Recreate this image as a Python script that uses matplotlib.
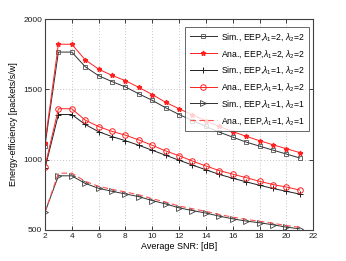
# energy-efficiency vs SNR
import matplotlib
matplotlib.use('Agg')
import matplotlib.pyplot as plt
import numpy as np

snr = np.arange(2, 22)

sim_22 = [1100, 1765, 1765, 1661, 1597, 1555, 1517, 1468, 1422, 1369, 1321,
          1278, 1236, 1196, 1160, 1125, 1096, 1068, 1040, 1012]
ana_22 = [1121, 1821, 1821, 1710, 1644, 1599, 1562, 1514, 1463, 1408, 1362,
          1318, 1276, 1237, 1200, 1166, 1135, 1106, 1078, 1050]
sim_12 = [938, 1321, 1321, 1250, 1199, 1164, 1135, 1102, 1067, 1031, 996,
          961, 928, 895, 868, 842, 818, 795, 775, 755]
ana_12 = [951, 1362, 1362, 1281, 1235, 1201, 1174, 1140, 1102, 1062, 1028,
          990, 955, 922, 897, 872, 846, 823, 805, 784]
sim_11 = [626, 885, 885, 831, 796, 775, 756, 737, 709, 685, 657,
          638, 620, 598, 579, 563, 551, 537, 520, 508]
ana_11 = [626, 904, 904, 846, 810, 789, 770, 750, 722, 698, 670,
          651, 632, 610, 591, 575, 562, 548, 531, 519]

plt.rcParams.update({'font.size': 6, 'font.family': 'Liberation Sans',
                     'mathtext.fontset': 'custom', 'mathtext.rm': 'Liberation Sans',
                     'mathtext.it': 'Liberation Sans:italic'})

fig = plt.figure(figsize=(3.46, 2.61), dpi=100)
ax = fig.add_axes([0.130, 0.119, 0.775, 0.808])

lw = 0.7
ms = 3.5
ax.plot(snr, sim_22, '-s', color='#303030', lw=lw, ms=ms, mfc='none', mec='#505050', mew=0.6,
        label=r'Sim., EEP,$\lambda_1$=2, $\lambda_2$=2')
ax.plot(snr, ana_22, '-*', color='#ff2020', lw=lw, ms=ms, mfc='#ff2020', mec='#ff2020',
        label=r'Ana., EEP,$\lambda_1$=2, $\lambda_2$=2')
ax.plot(snr, sim_12, '-+', color='#202020', lw=lw, ms=ms + 1, mew=0.7,
        label=r'Sim., EEP,$\lambda_1$=1, $\lambda_2$=2')
ax.plot(snr, ana_12, '-o', color='#ff2020', lw=lw, ms=ms + 0.5, mfc='none', mew=0.7,
        label=r'Ana., EEP,$\lambda_1$=1, $\lambda_2$=2')
ax.plot(snr, sim_11, '->', color='#303030', lw=lw, ms=ms + 0.5, mfc='none', mec='#404040', mew=0.6,
        label=r'Sim., EEP,$\lambda_1$=1, $\lambda_2$=1')
ax.plot(snr, ana_11, '--', color='#ff5050', lw=0.8, dashes=(5, 3),
        label=r'Ana., EEP,$\lambda_1$=1, $\lambda_2$=1')

ax.set_xlim(2, 22)
ax.set_ylim(500, 2000)
ax.set_xticks(np.arange(2, 23, 2))
ax.set_yticks([500, 1000, 1500, 2000])
ax.grid(True, linestyle=(0, (1, 2.5)), color='#b0b0b0', lw=0.6)
ax.tick_params(direction='in', top=True, right=True, length=3, width=0.6, pad=2,
               colors='#202020', labelsize=6)
for s in ax.spines.values():
    s.set_color('#404040')
    s.set_linewidth(0.8)

ax.set_xlabel('Average SNR: [dB]', fontsize=6.5, labelpad=2)
ax.set_ylabel('Energy-efficiency [packets/s/w]', fontsize=6.5, labelpad=4)

leg = ax.legend(loc='upper right', fontsize=6.2, frameon=True, fancybox=False,
                edgecolor='#404040', handlelength=3.2, handletextpad=0.4,
                labelspacing=0.55, borderpad=0.5, bbox_to_anchor=(1.0, 0.985))
leg.get_frame().set_linewidth(0.7)

plt.savefig('out.png', dpi=100)
